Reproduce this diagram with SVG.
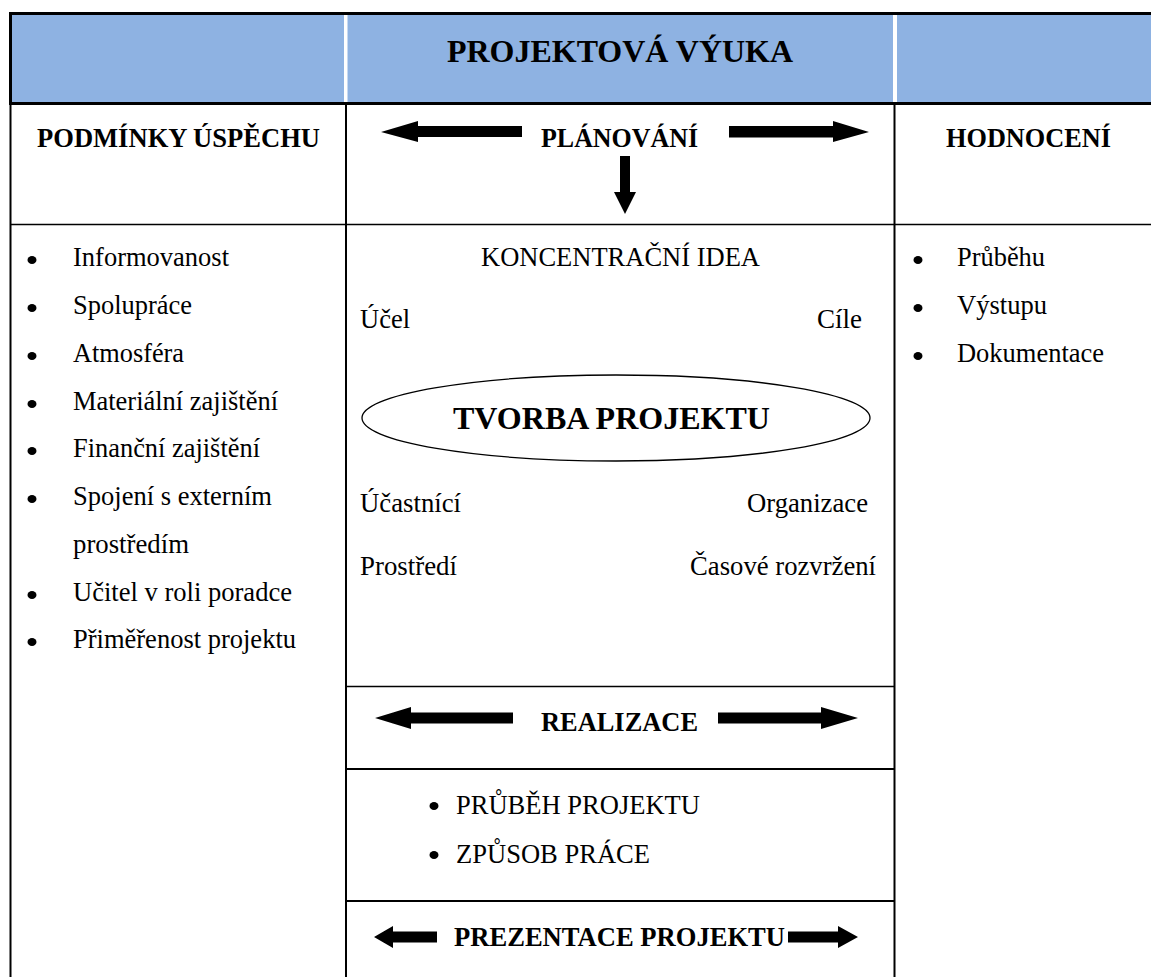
<svg xmlns="http://www.w3.org/2000/svg" width="1151" height="977" viewBox="0 0 1151 977">
<style>
text{font-family:"Liberation Serif","Times New Roman",serif;fill:#000}
.r{font-size:26.5px}
.b{font-size:26.5px;font-weight:bold}
.t{font-size:31.5px;font-weight:bold}
.ln{stroke:#000;fill:none}
.arr{fill:#000}
.bul{fill:#000}
</style>
<rect x="0" y="0" width="1151" height="977" fill="#fff"/>
<g id="header">
<rect x="10.5" y="13.5" width="1145" height="90" fill="#8EB2E2"/>
<rect x="344" y="15" width="3.5" height="87" fill="#fff"/>
<rect x="893" y="15" width="4" height="87" fill="#fff"/>
<path class="ln" d="M1151,13.5 H10.5 V103.5 H1151" stroke-width="3"/>
<text class="t" x="447" y="62" textLength="346" lengthAdjust="spacingAndGlyphs">PROJEKTOVÁ VÝUKA</text>
</g>
<g id="grid">
<line class="ln" x1="10.5" y1="105" x2="10.5" y2="977" stroke-width="2"/>
<line class="ln" x1="346" y1="105" x2="346" y2="977" stroke-width="2"/>
<line class="ln" x1="894.5" y1="105" x2="894.5" y2="977" stroke-width="2"/>
<line class="ln" x1="10" y1="224.5" x2="1151" y2="224.5" stroke-width="1.5"/>
<line class="ln" x1="346" y1="686.5" x2="894" y2="686.5" stroke-width="1.5"/>
<line class="ln" x1="346" y1="769" x2="894" y2="769" stroke-width="2"/>
<line class="ln" x1="346" y1="901" x2="894" y2="901" stroke-width="2"/>
</g>
<g id="podminky">
<text class="b" x="37" y="147" textLength="283" lengthAdjust="spacingAndGlyphs">PODMÍNKY ÚSPĚCHU</text>
<ellipse class="bul" cx="32" cy="260" rx="4.5" ry="4"/>
<ellipse class="bul" cx="32" cy="308" rx="4.5" ry="4"/>
<ellipse class="bul" cx="32" cy="356" rx="4.5" ry="4"/>
<ellipse class="bul" cx="32" cy="404" rx="4.5" ry="4"/>
<ellipse class="bul" cx="32" cy="451" rx="4.5" ry="4"/>
<ellipse class="bul" cx="32" cy="499" rx="4.5" ry="4"/>
<ellipse class="bul" cx="32" cy="595" rx="4.5" ry="4"/>
<ellipse class="bul" cx="32" cy="642" rx="4.5" ry="4"/>
<text class="r" x="73" y="266" textLength="156" lengthAdjust="spacingAndGlyphs">Informovanost</text>
<text class="r" x="73" y="314" textLength="119" lengthAdjust="spacingAndGlyphs">Spolupráce</text>
<text class="r" x="73" y="362" textLength="111" lengthAdjust="spacingAndGlyphs">Atmosféra</text>
<text class="r" x="73" y="410" textLength="205" lengthAdjust="spacingAndGlyphs">Materiální zajištění</text>
<text class="r" x="73" y="457" textLength="187" lengthAdjust="spacingAndGlyphs">Finanční zajištění</text>
<text class="r" x="73" y="505" textLength="199" lengthAdjust="spacingAndGlyphs">Spojení s externím</text>
<text class="r" x="73" y="553" textLength="116" lengthAdjust="spacingAndGlyphs">prostředím</text>
<text class="r" x="73" y="601" textLength="219" lengthAdjust="spacingAndGlyphs">Učitel v roli poradce</text>
<text class="r" x="73" y="648" textLength="223" lengthAdjust="spacingAndGlyphs">Přiměřenost projektu</text>
</g>
<g id="planovani">
<text class="b" x="541" y="147" textLength="157" lengthAdjust="spacingAndGlyphs">PLÁNOVÁNÍ</text>
<polygon class="arr" points="381,132 418,121 418,126 522,126 522,137 418,137 418,142"/>
<polygon class="arr" points="869,132 833,121 833,126 729,126 729,137.5 833,137.5 833,142"/>
<polygon class="arr" points="625,214 614,192 620,192 620,156 630,156 630,192 636,192"/>
</g>
<g id="hodnoceni">
<text class="b" x="946" y="147" textLength="165" lengthAdjust="spacingAndGlyphs">HODNOCENÍ</text>
<ellipse class="bul" cx="918" cy="260" rx="4.5" ry="4"/>
<ellipse class="bul" cx="918" cy="308" rx="4.5" ry="4"/>
<ellipse class="bul" cx="918" cy="356" rx="4.5" ry="4"/>
<text class="r" x="957" y="266" textLength="88" lengthAdjust="spacingAndGlyphs">Průběhu</text>
<text class="r" x="957" y="314" textLength="90" lengthAdjust="spacingAndGlyphs">Výstupu</text>
<text class="r" x="957" y="362" textLength="147" lengthAdjust="spacingAndGlyphs">Dokumentace</text>
</g>
<g id="tvorba">
<text class="r" x="481" y="266" textLength="279" lengthAdjust="spacingAndGlyphs">KONCENTRAČNÍ IDEA</text>
<text class="r" x="360" y="328" textLength="50" lengthAdjust="spacingAndGlyphs">Účel</text>
<text class="r" x="817" y="328" textLength="45" lengthAdjust="spacingAndGlyphs">Cíle</text>
<ellipse cx="616" cy="418" rx="254" ry="43" fill="none" stroke="#000" stroke-width="1.3"/>
<text class="t" x="453" y="429" textLength="317" lengthAdjust="spacingAndGlyphs">TVORBA PROJEKTU</text>
<text class="r" x="360" y="512" textLength="101" lengthAdjust="spacingAndGlyphs">Účastnící</text>
<text class="r" x="747" y="512" textLength="121" lengthAdjust="spacingAndGlyphs">Organizace</text>
<text class="r" x="360" y="575" textLength="97" lengthAdjust="spacingAndGlyphs">Prostředí</text>
<text class="r" x="690" y="575" textLength="186" lengthAdjust="spacingAndGlyphs">Časové rozvržení</text>
</g>
<g id="realizace">
<text class="b" x="541" y="731" textLength="157" lengthAdjust="spacingAndGlyphs">REALIZACE</text>
<polygon class="arr" points="375,718 411,707 411,712.5 513,712.5 513,723.5 411,723.5 411,729"/>
<polygon class="arr" points="858,718 821,707 821,712.5 718,712.5 718,723.5 821,723.5 821,729"/>
</g>
<g id="prubeh">
<ellipse class="bul" cx="434" cy="806" rx="4.5" ry="4"/>
<ellipse class="bul" cx="434" cy="855" rx="4.5" ry="4"/>
<text class="r" x="456" y="814" textLength="244" lengthAdjust="spacingAndGlyphs">PRŮBĚH PROJEKTU</text>
<text class="r" x="456" y="863" textLength="194" lengthAdjust="spacingAndGlyphs">ZPŮSOB PRÁCE</text>
</g>
<g id="prezentace">
<text class="b" x="454" y="946" textLength="331" lengthAdjust="spacingAndGlyphs">PREZENTACE PROJEKTU</text>
<polygon class="arr" points="374,937 393,926 393,931.5 437,931.5 437,942.5 393,942.5 393,948"/>
<polygon class="arr" points="858,937 838,926 838,931.5 788,931.5 788,942.5 838,942.5 838,948"/>
</g>
</svg>
